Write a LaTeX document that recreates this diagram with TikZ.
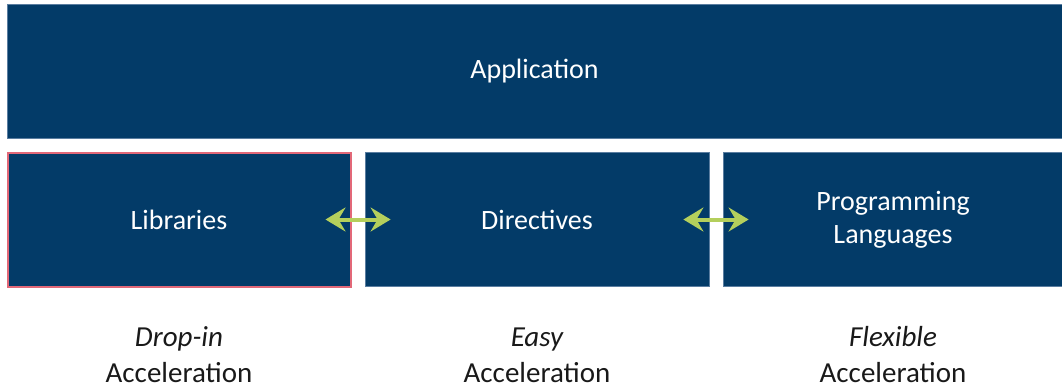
\documentclass[tikz,border=0pt]{standalone}
\usepackage{fontspec}
\setmainfont{Carlito}
\usetikzlibrary{arrows.meta}
\definecolor{boxblue}{RGB}{3,59,104}
\definecolor{edgeblue}{RGB}{90,125,160}
\definecolor{libred}{RGB}{226,104,120}
\definecolor{arrowgreen}{RGB}{180,207,92}
\definecolor{labelgray}{RGB}{25,25,25}
\tikzset{
  layer/.style={fill=boxblue, draw=edgeblue, line width=0.8pt, inner sep=0pt,
    text=white, font=\fontsize{28}{33}\selectfont, align=center},
  caption/.style={text=labelgray, font=\fontsize{29}{34}\selectfont, anchor=base, inner sep=0pt},
  link/.style={draw=arrowgreen, line width=4pt,
    {Stealth[length=20pt, width=24pt, inset=7pt]}-{Stealth[length=20pt, width=24pt, inset=7pt]}}
}
\begin{document}
\begin{tikzpicture}[x=1pt, y=-1pt]
  \useasboundingbox (0,0) rectangle (1062,386);
  % top layer
  \node[layer, minimum width=1055pt, minimum height=134pt] (app) at (534.5,71) {Application};
  % middle layer
  \node[layer, draw=libred, line width=2pt, minimum width=343pt, minimum height=134pt] (lib) at (179,219.5) {Libraries};
  \node[layer, minimum width=344pt, minimum height=134pt] (dir) at (537,219.5) {Directives};
  \node[layer, minimum width=340pt, minimum height=134pt] (prog) at (893,219.5) {Programming\\Languages};
  % links between approaches
  \draw[link] ([xshift=-26pt]lib.east) -- ([xshift=26pt]dir.west);
  \draw[link] ([xshift=-26pt]dir.east) -- ([xshift=26pt]prog.west);
  % captions
  \node[caption] (c1a) at (179,346) {\itshape Drop-in};
  \node[caption] (c1b) at (179,382) {Acceleration};
  \node[caption] (c2a) at (537,346) {\itshape Easy};
  \node[caption] (c2b) at (537,382) {Acceleration};
  \node[caption] (c3a) at (893,346) {\itshape Flexible};
  \node[caption] (c3b) at (893,382) {Acceleration};
\end{tikzpicture}
\end{document}
